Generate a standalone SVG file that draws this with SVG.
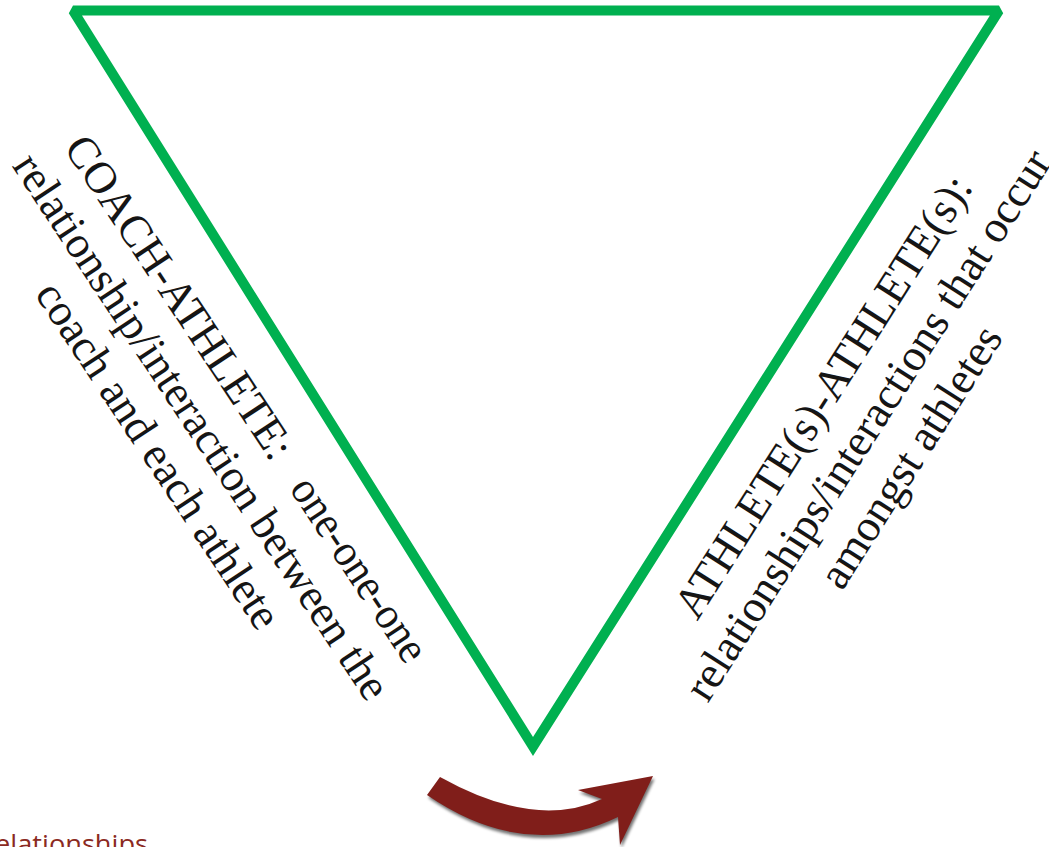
<svg xmlns="http://www.w3.org/2000/svg" width="1049" height="847" viewBox="0 0 1049 847">
  <style>
    .lbl { font-family: "Liberation Serif", "Times New Roman", serif; font-size: 45px; fill: #151515; }
    .mid { text-anchor: middle; }
    .caption { font-family: "Open Sans", "Liberation Sans", sans-serif; font-size: 26px; fill: #8b2a22; }
  </style>
  <defs>
    <filter id="soft-shadow" x="-10%" y="-20%" width="120%" height="140%">
      <feGaussianBlur stdDeviation="1.6"/>
    </filter>
  </defs>

  <rect width="1049" height="847" fill="#ffffff"/>

  <!-- inverted triangle outline: bevelled top corners, sharp bottom point -->
  <g id="triangle">
    <path fill="#00b050" fill-rule="evenodd"
          d="M73,5.5 L999,5.5 L1003.2,13.2 L533,755.9 L68.8,13.2 Z
             M82,15.5 L989.9,15.5 L533,737.1 Z"/>
  </g>

  <!-- label along the left side -->
  <g id="label-coach-athlete" class="lbl" transform="rotate(56.5)">
    <text x="158" y="29" textLength="378" lengthAdjust="spacingAndGlyphs">COACH-ATHLETE:</text>
    <text x="779" y="29" text-anchor="end" textLength="212" lengthAdjust="spacingAndGlyphs">one-one-one</text>
    <text class="mid" x="467" y="82">relationship/interaction between the</text>
    <text class="mid" x="467" y="134">coach and each athlete</text>
  </g>

  <!-- label along the right side -->
  <g id="label-athlete-athlete" class="lbl" transform="rotate(-57.5)">
    <text class="mid" x="108" y="922" textLength="515" lengthAdjust="spacingAndGlyphs">ATHLETE(s)-ATHLETE(s):</text>
    <text class="mid" x="108" y="975">relationships/interactions that occur</text>
    <text class="mid" x="104" y="1028">amongst athletes</text>
  </g>

  <!-- curved arrow under the bottom point -->
  <g id="connectors">
    <path d="M440,777 Q535,830 602,799 L578,790 L653,776 L620,845 L618,817 Q525,862 427,795 Z"
          fill="#000000" opacity="0.55" transform="translate(1.5,3)" filter="url(#soft-shadow)"/>
    <path id="cycle-arrow" d="M440,777 Q535,830 602,799 L578,790 L653,776 L620,845 L618,817 Q525,862 427,795 Z"
          fill="#801e1a"/>
  </g>

  <g id="caption">
    <text class="caption" x="-16" y="853" textLength="164" lengthAdjust="spacingAndGlyphs">relationships</text>
  </g>
</svg>
